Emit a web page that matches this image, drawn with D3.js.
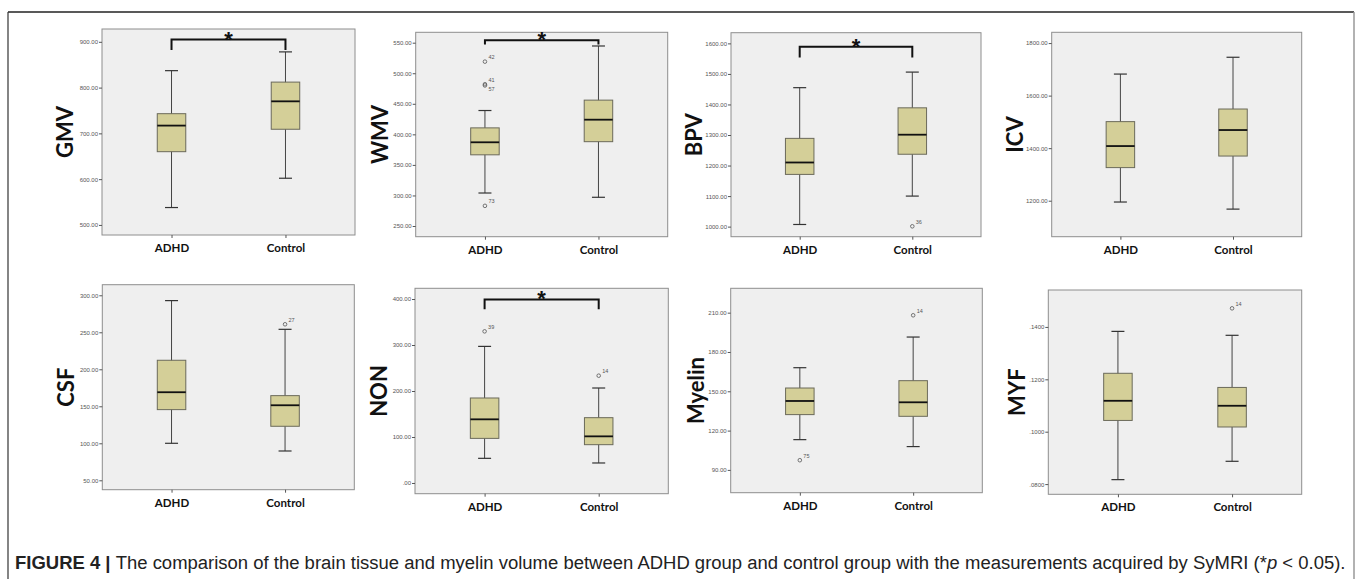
<!DOCTYPE html>
<html>
<head>
<meta charset="utf-8">
<script src="https://d3js.org/d3.v7.min.js"></script>
<style>
  body { margin: 0; background: #fff; }
</style>
</head>
<body>
<div id="my_dataviz"></div>
<script>
// values, one entry per panel: [ADHD, Control]
var measures = ["GMV", "WMV", "BPV", "ICV", "CSF", "NON", "Myelin", "MYF"];
var groups = ["ADHD", "Control"];

var whiskerLow  = [[538, 602], [304, 297], [1007, 1100], [1195, 1168], [100, 89.6], [53.6, 43.5], [113.1, 107.8], [0.0817, 0.0887]];
var quart1      = [[660, 709], [366.5, 388], [1171, 1237], [1326, 1370], [145.5, 123], [97, 83.3], [132.2, 130.9], [0.1043, 0.1018]];
var medians     = [[717, 770], [387, 424], [1210, 1301], [1408, 1469], [169, 151.4], [138.4, 101.4], [142.6, 141.6], [0.1118, 0.1099]];
var quart3      = [[743, 812], [410.6, 456], [1289, 1389], [1501, 1549], [212.2, 164.4], [184.8, 142], [152.5, 158.1], [0.1223, 0.1169]];
var whiskerHigh = [[837, 878], [439, 544.6], [1455, 1506], [1682, 1746], [292.8, 254], [297, 206.5], [168, 191.4], [0.1383, 0.1368]];

// outliers: [panel, group, value, case number]
var outliers = [
  [1, 0, 519, "42"], [1, 0, 482, "41"], [1, 0, 480, "57"], [1, 0, 283, "73"],
  [2, 1, 1001, "36"],
  [4, 1, 260.8, "27"],
  [5, 0, 329.7, "39"], [5, 1, 233.3, "14"],
  [6, 0, 97.4, "75"], [6, 1, 208, "14"],
  [7, 1, 0.1471, "14"]
];

// significance brackets (null = none)
var bracketTop  = [905, 554, 1589, null, null, 399, null, null];
var bracketFoot = [882, 547, 1554, null, null, 378, null, null];

// y axes
var yDomains = [[478, 928], [232.5, 567], [967, 1635], [1063, 1841], [37.3, 314.3], [-23.3, 423.3], [72.6, 228.6], [0.0761, 0.1541]];
var yTicks = [
  [500, 600, 700, 800, 900],
  [250, 300, 350, 400, 450, 500, 550],
  [1000, 1100, 1200, 1300, 1400, 1500, 1600],
  [1200, 1400, 1600, 1800],
  [50, 100, 150, 200, 250, 300],
  [0, 100, 200, 300, 400],
  [90, 120, 150, 180, 210],
  [0.08, 0.10, 0.12, 0.14]
];
var yDecimals = [2, 2, 2, 2, 2, 2, 2, 4];

// panel frames [x, y, w, h] and title positions
var frames = [
  [102, 29, 253, 206], [415.7, 32.3, 252, 204.4], [731, 32.7, 250, 204], [1051.7, 32.3, 250, 204.4],
  [102.3, 284.7, 252, 205], [415, 288.3, 253.3, 205.4], [730.7, 288.3, 251.6, 204.4], [1048.3, 290, 253.4, 204.3]
];
var labelX = [65, 380, 694, 1015, 66, 379, 696, 1017];

var W = 1360, H = 579;
var boxW = 28.5, capW = 13;

var svg = d3.select("#my_dataviz")
  .append("svg")
    .attr("width", W)
    .attr("height", H);

// outer figure frame
svg.append("line").attr("x1", 8).attr("x2", 1354).attr("y1", 12).attr("y2", 12)
  .attr("stroke", "#222").attr("stroke-width", 1.5);
svg.append("line").attr("x1", 8).attr("x2", 8).attr("y1", 12).attr("y2", H)
  .attr("stroke", "#333").attr("stroke-width", 1.2);
svg.append("line").attr("x1", 1354).attr("x2", 1354).attr("y1", 12).attr("y2", H)
  .attr("stroke", "#999").attr("stroke-width", 1.5);

measures.forEach(function(name, i) {
  var f = frames[i];
  var w = f[2], h = f[3];

  var x = d3.scalePoint()
    .domain(groups)
    .range([0, w])
    .padding(0.61);

  var y = d3.scaleLinear()
    .domain(yDomains[i])
    .range([h, 0]);

  var g = svg.append("g")
    .attr("transform", "translate(" + f[0] + "," + f[1] + ")");

  g.append("rect")
    .attr("width", w)
    .attr("height", h)
    .attr("fill", "#efefef")
    .attr("stroke", "#8e8e8e")
    .attr("stroke-width", 1);

  // Y axis
  var fmt = d3.format("." + yDecimals[i] + "f");
  var ya = g.append("g")
    .call(d3.axisLeft(y)
      .tickValues(yTicks[i])
      .tickSize(3)
      .tickPadding(1)
      .tickFormat(function(v) { return fmt(v).replace(/^0\./, "."); }));
  ya.select(".domain").remove();
  ya.selectAll("line").attr("stroke", "#555");
  ya.selectAll("text")
    .attr("font-family", "Arial, 'Liberation Sans', sans-serif")
    .attr("font-size", 6)
    .attr("fill", "#555");

  // X axis
  var xa = g.append("g")
    .attr("transform", "translate(0," + h + ")")
    .call(d3.axisBottom(x).tickSize(3).tickPadding(6));
  xa.select(".domain").remove();
  xa.selectAll("line").attr("stroke", "#555");
  xa.selectAll("text")
    .attr("font-family", "Lato, 'Open Sans', sans-serif")
    .attr("font-weight", "bold")
    .attr("font-size", 11.5)
    .attr("fill", "#111");

  // boxes
  groups.forEach(function(grp, j) {
    var cx = x(grp);
    g.append("line")
      .attr("x1", cx).attr("x2", cx)
      .attr("y1", y(whiskerLow[i][j])).attr("y2", y(whiskerHigh[i][j]))
      .attr("stroke", "#444").attr("stroke-width", 1);
    [whiskerLow[i][j], whiskerHigh[i][j]].forEach(function(v) {
      g.append("line")
        .attr("x1", cx - capW / 2).attr("x2", cx + capW / 2)
        .attr("y1", y(v)).attr("y2", y(v))
        .attr("stroke", "#333").attr("stroke-width", 1.2);
    });
    g.append("rect")
      .attr("x", cx - boxW / 2)
      .attr("y", y(quart3[i][j]))
      .attr("width", boxW)
      .attr("height", y(quart1[i][j]) - y(quart3[i][j]))
      .attr("fill", "#d4cf98")
      .attr("stroke", "#6b6a5a")
      .attr("stroke-width", 1);
    g.append("line")
      .attr("x1", cx - boxW / 2).attr("x2", cx + boxW / 2)
      .attr("y1", y(medians[i][j])).attr("y2", y(medians[i][j]))
      .attr("stroke", "#111").attr("stroke-width", 1.8);
  });

  // outliers
  outliers.filter(function(o) { return o[0] === i; }).forEach(function(o) {
    var cx = x(groups[o[1]]), cy = y(o[2]);
    g.append("circle")
      .attr("cx", cx).attr("cy", cy).attr("r", 1.8)
      .attr("fill", "none").attr("stroke", "#555").attr("stroke-width", 0.8);
    g.append("text")
      .attr("x", cx + 3.5)
      .attr("y", o[3] === "57" ? cy + 6 : cy - 2.5)
      .attr("font-family", "Arial, sans-serif")
      .attr("font-size", 5.5)
      .attr("fill", "#555")
      .text(o[3]);
  });

  // significance bracket
  if (bracketTop[i] !== null) {
    var x0 = x(groups[0]), x1 = x(groups[1]);
    var yt = y(bracketTop[i]), yf = y(bracketFoot[i]);
    g.append("path")
      .attr("d", "M" + x0 + "," + yf + "V" + yt + "H" + x1 + "V" + yf)
      .attr("fill", "none")
      .attr("stroke", "#111")
      .attr("stroke-width", 2);
    g.append("text")
      .attr("x", (x0 + x1) / 2)
      .attr("y", yt + 7)
      .attr("text-anchor", "middle")
      .attr("font-family", "Arial, 'Liberation Sans', sans-serif")
      .attr("font-weight", "bold")
      .attr("font-size", 22)
      .attr("fill", "#111")
      .text("*");
  }

  // measure title
  svg.append("text")
    .attr("transform", "translate(" + labelX[i] + "," + (f[1] + h / 2) + ") rotate(-90)")
    .attr("dy", "0.36em")
    .attr("text-anchor", "middle")
    .attr("font-family", "Lato, 'Open Sans', sans-serif")
    .attr("font-weight", "bold")
    .attr("font-size", 22)
    .attr("fill", "#111")
    .text(name);
});

// caption (squeezed horizontally to mimic the condensed journal font)
var cap = svg.append("g")
  .attr("transform", "translate(15,569) scale(0.973,1)")
  .append("text")
  .attr("font-family", "'Liberation Sans', Arial, sans-serif")
  .attr("font-size", 19)
  .attr("fill", "#222");
cap.append("tspan").attr("font-weight", "bold").text("FIGURE 4 | ");
cap.append("tspan").text("The comparison of the brain tissue and myelin volume between ADHD group and control group with the measurements acquired by SyMRI (*");
cap.append("tspan").attr("font-style", "italic").text("p");
cap.append("tspan").text(" < 0.05).");
</script>
</body>
</html>
